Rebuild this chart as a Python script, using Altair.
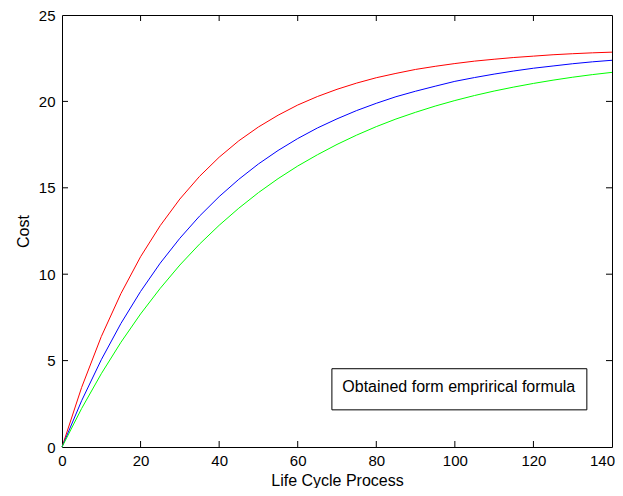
import altair as alt
import pandas as pd

# Data
process = [0, 5, 10, 15, 20, 25, 30, 35, 40, 45, 50, 55, 60, 65, 70, 75,
           80, 85, 90, 95, 100, 105, 110, 115, 120, 125, 130, 135, 140]
cost_red = [0.0, 3.45, 6.39, 8.88, 11.01, 12.81, 14.35, 15.66, 16.77, 17.72,
            18.52, 19.20, 19.79, 20.28, 20.70, 21.06, 21.37, 21.62, 21.85,
            22.03, 22.19, 22.33, 22.44, 22.54, 22.62, 22.70, 22.76, 22.81, 22.85]
cost_blue = [0.0, 2.68, 5.05, 7.15, 9.00, 10.64, 12.08, 13.36, 14.49, 15.49,
             16.38, 17.16, 17.85, 18.46, 18.99, 19.47, 19.89, 20.27, 20.59,
             20.88, 21.16, 21.38, 21.58, 21.76, 21.92, 22.05, 22.18, 22.29, 22.38]
cost_green = [0.0, 2.23, 4.24, 6.06, 7.70, 9.18, 10.53, 11.74, 12.83, 13.82,
              14.72, 15.53, 16.26, 16.91, 17.51, 18.05, 18.54, 18.98, 19.37,
              19.73, 20.05, 20.34, 20.60, 20.83, 21.04, 21.23, 21.40, 21.55, 21.68]
series_names = ["red", "blue", "green"]
series_colors = ["#ff0000", "#0000ff", "#00ff00"]

x_ticks = [20, 40, 60, 80, 100, 120]
y_ticks = [5, 10, 15, 20]

note_text = ["Obtained form emprirical formula"]
note_box_x = [68.7]
note_box_x2 = [133.6]
note_box_y = [2.15]
note_box_y2 = [4.53]
note_text_x = [101.0]
note_text_y = [3.5]

W, H = 550, 432
FONT = "Liberation Sans"

rows = []
for name, vals in zip(series_names, [cost_red, cost_blue, cost_green]):
    for xv, yv in zip(process, vals):
        rows.append({"process": xv, "cost": yv, "series": name})
df = pd.DataFrame(rows)

xscale = alt.Scale(domain=[0, 140], nice=False, zero=False)
yscale = alt.Scale(domain=[0, 25], nice=False, zero=False)

lines = alt.Chart(df).mark_line(strokeWidth=1).encode(
    x=alt.X("process:Q", scale=xscale,
            axis=alt.Axis(title="Life Cycle Process", values=[0, 20, 40, 60, 80, 100, 120, 140],
                          ticks=False, domain=False, grid=False, labelPadding=6,
                          labelFlush=False, labelOverlap=False,
                          labelOffset=alt.condition("datum.value == 140", alt.value(-10), alt.value(0)),
                          titleY=38, titleBaseline="alphabetic", titleFontSize=16,
                          titleFontWeight="normal")),
    y=alt.Y("cost:Q", scale=yscale,
            axis=alt.Axis(title="Cost", values=[0, 5, 10, 15, 20, 25],
                          ticks=False, domain=False, grid=False, labelPadding=7,
                          labelFlush=False, labelOverlap=False,
                          titleX=-34, titleY=216, titleAngle=270, titleAlign="center",
                          titleBaseline="alphabetic", titleFontSize=16,
                          titleFontWeight="normal")),
    color=alt.Color("series:N", scale=alt.Scale(domain=series_names, range=series_colors),
                    legend=None),
    detail="series:N",
)

xt = pd.DataFrame({"t": x_ticks})
yt = pd.DataFrame({"t": y_ticks})

tick_bottom = alt.Chart(xt).mark_rule(color="black", strokeWidth=1).encode(
    x=alt.X("t:Q", scale=xscale), y=alt.value(H), y2=alt.value(H - 6))
tick_top = alt.Chart(xt).mark_rule(color="black", strokeWidth=1).encode(
    x=alt.X("t:Q", scale=xscale), y=alt.value(0), y2=alt.value(6))
tick_left = alt.Chart(yt).mark_rule(color="black", strokeWidth=1).encode(
    y=alt.Y("t:Q", scale=yscale), x=alt.value(0), x2=alt.value(6))
tick_right = alt.Chart(yt).mark_rule(color="black", strokeWidth=1).encode(
    y=alt.Y("t:Q", scale=yscale), x=alt.value(W), x2=alt.value(W - 6))

note_df = pd.DataFrame({"x": note_box_x, "x2": note_box_x2, "y": note_box_y,
                        "y2": note_box_y2, "tx": note_text_x, "ty": note_text_y,
                        "label": note_text})
note_box = alt.Chart(note_df).mark_rect(fill="white", stroke="black", strokeWidth=1).encode(
    x=alt.X("x:Q", scale=xscale), x2="x2:Q",
    y=alt.Y("y:Q", scale=yscale), y2="y2:Q")
note_label = alt.Chart(note_df).mark_text(font=FONT, fontSize=16, color="black",
                                          align="center", baseline="middle").encode(
    x=alt.X("tx:Q", scale=xscale), y=alt.Y("ty:Q", scale=yscale), text="label:N")

chart = alt.layer(lines, tick_bottom, tick_top, tick_left, tick_right,
                  note_box, note_label).properties(
    width=W, height=H,
    autosize=alt.AutoSizeParams(type="none"),
    padding={"left": 54, "top": 7, "right": 3, "bottom": 41},
    background="white",
).configure_view(
    stroke="black", strokeWidth=1
).configure_axis(
    labelFont=FONT, titleFont=FONT, labelFontSize=15, labelColor="black",
    titleColor="black",
)

chart.save("out.html", embed_options={"renderer": "svg", "actions": False})
